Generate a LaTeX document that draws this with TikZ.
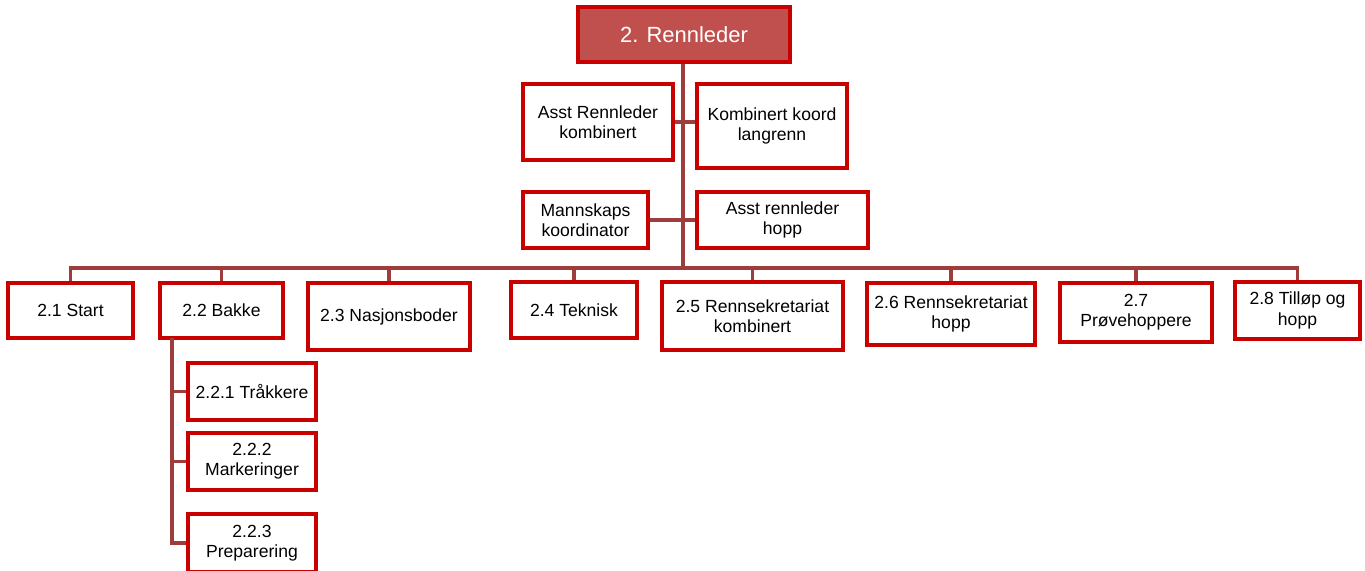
\documentclass[tikz,border=0pt]{standalone}
\usepackage{fontspec}
\setmainfont{Liberation Sans}
\definecolor{boxred}{RGB}{200,0,0}
\definecolor{headfill}{RGB}{192,80,77}
\definecolor{linkred}{RGB}{158,62,60}
\begin{document}
\begin{tikzpicture}[x=0.02cm,y=-0.02cm,
    box/.style={draw=boxred,line width=2pt,fill=white,align=center,inner sep=2pt,
      font=\fontsize{10}{11.5}\selectfont},
    link/.style={draw=linkred,line width=1.8pt}]
      \clip (0,0) rectangle (1365,571);
      \coordinate (hub) at (683,268);
      \coordinate (bakkeFoot) at (172,338);
      \draw[link] (683,62) -- (hub);
      \node[box,fill=headfill,text=white,minimum width=212*0.02cm,minimum height=55*0.02cm,
        font=\fontsize{12.5}{14}\selectfont] (rennleder) at (684,34.5) {2. Rennleder};
      \node[box,minimum width=150*0.02cm,minimum height=76*0.02cm] (asstKomb) at (598,122) {Asst Rennleder\\kombinert};
      \node[box,minimum width=150*0.02cm,minimum height=84*0.02cm] (kombKoord) at (772,126) {Kombinert koord\\langrenn};
      \node[box,minimum width=125*0.02cm,minimum height=56*0.02cm] (mannskap) at (585.5,220) {Mannskaps\\koordinator};
      \node[box,minimum width=171*0.02cm,minimum height=56*0.02cm] (asstHopp) at (782.5,220) {Asst rennleder\\hopp};
      \node[box,minimum width=125*0.02cm,minimum height=55*0.02cm] (start) at (70.5,310.5) {2.1 Start};
      \node[box,minimum width=123*0.02cm,minimum height=55*0.02cm] (bakke) at (221.5,310.5) {2.2 Bakke};
      \node[box,minimum width=162*0.02cm,minimum height=67*0.02cm] (nasjon) at (389,316.5) {2.3 Nasjonsboder};
      \node[box,minimum width=126*0.02cm,minimum height=56*0.02cm] (teknisk) at (574,310) {2.4 Teknisk};
      \node[box,minimum width=181*0.02cm,minimum height=68*0.02cm] (sekrKomb) at (752.5,316) {2.5 Rennsekretariat\\kombinert};
      \node[box,minimum width=168*0.02cm,minimum height=62*0.02cm] (sekrHopp) at (951,314) {2.6 Rennsekretariat\\hopp};
      \node[box,minimum width=152*0.02cm,minimum height=59*0.02cm] (proeve) at (1136,312.5) {2.7\\Prøvehoppere};
      \node[box,minimum width=125*0.02cm,minimum height=57*0.02cm] (tilloep) at (1297.5,310.5) {2.8 Tilløp og\\hopp};
      \node[box,minimum width=128*0.02cm,minimum height=57*0.02cm] (traakk) at (252,391.5) {2.2.1 Tråkkere};
      \node[box,minimum width=128*0.02cm,minimum height=57*0.02cm] (mark) at (252,461.5) {2.2.2\\Markeringer};
      \node[box,minimum width=128*0.02cm,minimum height=58*0.02cm] (prep) at (252,543) {2.2.3\\Preparering};
      \draw[link] (rennleder.south -| hub) -- (hub);
      \foreach \n in {start,bakke,nasjon,teknisk,sekrKomb,sekrHopp,proeve,tilloep}
        \draw[link] (hub) -| (\n.north);
      \draw[link] (asstKomb.east) -- (asstKomb.east -| kombKoord.west);
      \draw[link] (mannskap) -- (asstHopp);
      \foreach \n in {traakk,mark,prep}
        \draw[link] (bakkeFoot) |- (\n.west);
\end{tikzpicture}
\end{document}
